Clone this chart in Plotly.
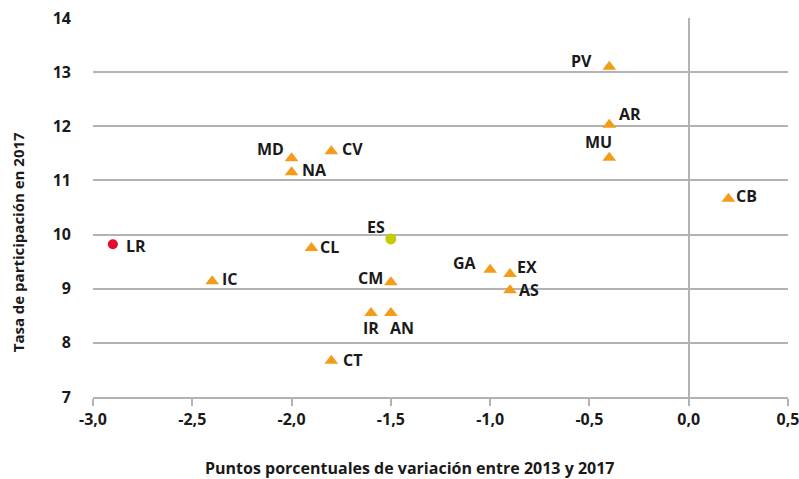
import plotly.graph_objects as go

# ---- data ----
labels = ["PV", "AR", "MU", "CB", "MD", "NA", "CV", "CL", "IC", "CM",
          "IR", "AN", "CT", "GA", "EX", "AS"]
x_change = [-0.4, -0.4, -0.4, 0.2, -2.0, -2.0, -1.8, -1.9, -2.4, -1.5,
            -1.6, -1.5, -1.8, -1.0, -0.9, -0.9]
y_rate = [13.1, 12.03, 11.42, 10.66, 11.41, 11.15, 11.54, 9.75, 9.14, 9.12,
          8.55, 8.55, 7.67, 9.35, 9.27, 8.97]

es_label = ["ES"]
es_x = [-1.5]
es_y = [9.92]

lr_label = ["LR"]
lr_x = [-2.9]
lr_y = [9.82]

x_ticks = [-3.0, -2.5, -2.0, -1.5, -1.0, -0.5, 0.0, 0.5]
x_ticktext = ["-3,0", "-2,5", "-2,0", "-1,5", "-1,0", "-0,5", "0,0", "0,5"]
y_ticks = [7, 8, 9, 10, 11, 12, 13, 14]

x_title = "Puntos porcentuales de variación entre 2013 y 2017"
y_title = "Tasa de participación en 2017"

# ---- label placement (styles, not data) ----
label_pos = {
    "PV": ("right", -15, 6), "AR": ("left", 8, 11), "MU": ("center", -11, 16),
    "CB": ("left", 6, 3), "MD": ("right", -6, 9), "NA": ("left", 8, 2),
    "CV": ("left", 9, 2), "CL": ("left", 7, 1), "IC": ("left", 8, 2),
    "CM": ("right", -6, 4), "IR": ("center", 0, -15), "AN": ("left", -3, -15),
    "CT": ("left", 10, 1), "GA": ("right", -11, 7), "EX": ("left", 5, 7),
    "AS": ("left", 7, 0), "ES": ("right", -4, 12), "LR": ("left", 11, -2),
}

font_family = "Open Sans"
text_color = "#1a1a1a"
grid_color = "#B3B3B3"
bold_font = dict(family=font_family, size=16, color=text_color, weight="bold")
ytitle_font = dict(family=font_family, size=15, color=text_color, weight="bold")

fig = go.Figure()

fig.add_trace(go.Scatter(
    x=x_change, y=y_rate, mode="markers",
    marker=dict(symbol="triangle-up", size=12, color="#F39C1A"),
    hoverinfo="text", text=labels, showlegend=False,
))
fig.add_trace(go.Scatter(
    x=lr_x, y=lr_y, mode="markers",
    marker=dict(symbol="circle", size=10, color="#E30A2B"),
    hoverinfo="text", text=lr_label, showlegend=False,
))
fig.add_trace(go.Scatter(
    x=es_x, y=es_y, mode="markers",
    marker=dict(symbol="circle", size=11, color="#C5CC00"),
    hoverinfo="text", text=es_label, showlegend=False,
))

annotations = []
for lab, xv, yv in zip(labels + lr_label + es_label,
                       x_change + lr_x + es_x, y_rate + lr_y + es_y):
    anchor, dx, dy = label_pos[lab]
    annotations.append(dict(
        x=xv, y=yv, xref="x", yref="y", text=lab, showarrow=False,
        xanchor=anchor, yanchor="middle", xshift=dx, yshift=dy,
        font=bold_font,
    ))

# axis titles (placed as in the reference, off-centre)
annotations.append(dict(
    x=0.4554, y=-0.187, xref="paper", yref="paper", text=x_title,
    showarrow=False, xanchor="center", yanchor="middle", font=bold_font,
))
annotations.append(dict(
    x=-0.108, y=0.408, xref="paper", yref="paper", text=y_title,
    showarrow=False, xanchor="center", yanchor="middle", textangle=-90,
    font=ytitle_font,
))

fig.update_layout(
    width=799, height=479,
    margin=dict(l=93, r=11, t=18, b=82, autoexpand=False),
    paper_bgcolor="white", plot_bgcolor="white",
    font=bold_font,
    annotations=annotations,
    xaxis=dict(
        range=[-3.0, 0.5], tickvals=x_ticks, ticktext=x_ticktext,
        automargin=False,
        showgrid=False, zeroline=True, zerolinecolor=grid_color, zerolinewidth=2,
        showline=True, linecolor=grid_color, linewidth=2,
        ticks="outside", ticklen=7, tickwidth=2, tickcolor=grid_color,
        ticklabelstandoff=0, ticklabeloverflow="allow",
        tickfont=bold_font,
    ),
    yaxis=dict(
        range=[7, 14], tickvals=y_ticks,
        automargin=False,
        showgrid=True, gridcolor=grid_color, gridwidth=2,
        zeroline=False, showline=False, ticks="",
        ticklabelstandoff=21,
        tickfont=bold_font,
    ),
)

fig.write_html("out.html", config={"displayModeBar": False},
               post_script="document.body.style.margin='0';")
